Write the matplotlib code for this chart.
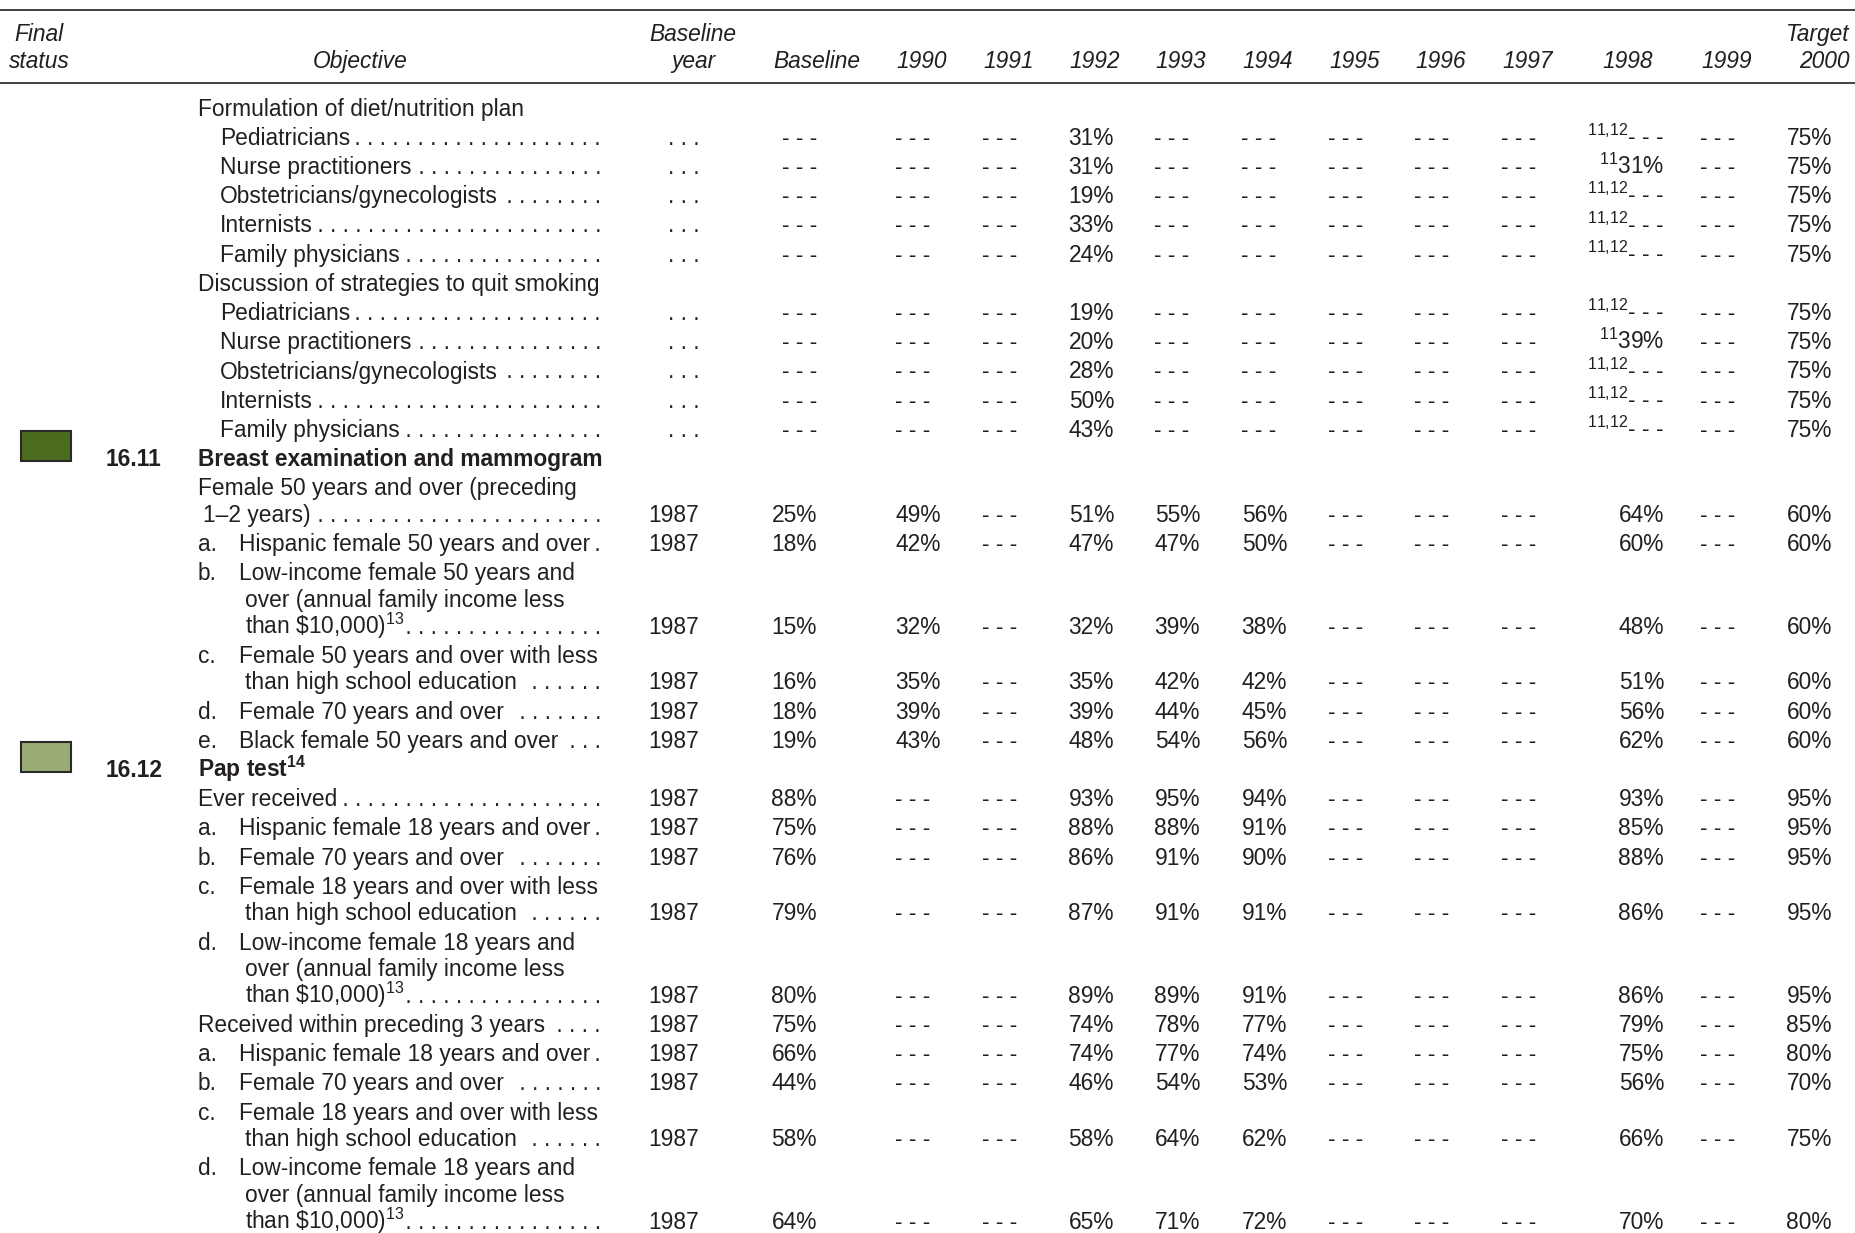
import matplotlib.pyplot as plt
from matplotlib.patches import Rectangle

plt.rcParams['font.family'] = ['Liberation Sans', 'DejaVu Sans']
plt.rcParams['mathtext.fontset'] = 'custom'
plt.rcParams['mathtext.rm'] = 'Liberation Sans'
plt.rcParams['mathtext.it'] = 'Liberation Sans:italic'
plt.rcParams['mathtext.bf'] = 'Liberation Sans:bold'
plt.rcParams['mathtext.default'] = 'regular'

D = "---"
N = None

# table rows: kind, number/letter, label (lines split by \n)
row_kind = ["head", "sub", "sub", "sub", "sub", "sub",
            "head", "sub", "sub", "sub", "sub", "sub",
            "obj", "item", "item", "item", "item", "item", "item",
            "obj", "item", "item", "item", "item", "item",
            "item", "item", "item", "item", "item"]
row_tag = ["", "", "", "", "", "",
           "", "", "", "", "", "",
           "16.11", "", "a.", "b.", "c.", "d.", "e.",
           "16.12", "", "a.", "b.", "c.", "d.",
           "", "a.", "b.", "c.", "d."]
INC = "Low-income female {} years and\nover (annual family income less\nthan \\$10,000)${{}}^{{13}}$"
row_label = [
    "Formulation of diet/nutrition plan",
    "Pediatricians", "Nurse practitioners", "Obstetricians/gynecologists",
    "Internists", "Family physicians",
    "Discussion of strategies to quit smoking",
    "Pediatricians", "Nurse practitioners", "Obstetricians/gynecologists",
    "Internists", "Family physicians",
    "Breast examination and mammogram",
    "Female 50 years and over (preceding\n1\u20132 years)",
    "Hispanic female 50 years and over",
    INC.format(50),
    "Female 50 years and over with less\nthan high school education",
    "Female 70 years and over",
    "Black female 50 years and over",
    "Pap test${}^{\\mathbf{14}}$",
    "Ever received",
    "Hispanic female 18 years and over",
    "Female 70 years and over",
    "Female 18 years and over with less\nthan high school education",
    INC.format(18),
    "Received within preceding 3 years",
    "Hispanic female 18 years and over",
    "Female 70 years and over",
    "Female 18 years and over with less\nthan high school education",
    INC.format(18),
]

base_year = [N] + ["..."] * 5 + [N] + ["..."] * 5 + [N] + ["1987"] * 6 + [N] + ["1987"] * 10
baseline = [N, D, D, D, D, D, N, D, D, D, D, D,
            N, "25%", "18%", "15%", "16%", "18%", "19%",
            N, "88%", "75%", "76%", "79%", "80%", "75%", "66%", "44%", "58%", "64%"]
y1990 = [N, D, D, D, D, D, N, D, D, D, D, D,
         N, "49%", "42%", "32%", "35%", "39%", "43%",
         N] + [D] * 10
y1991 = [N] + [D] * 5 + [N] + [D] * 5 + [N] + [D] * 6 + [N] + [D] * 10
y1992 = [N, "31%", "31%", "19%", "33%", "24%", N, "19%", "20%", "28%", "50%", "43%",
         N, "51%", "47%", "32%", "35%", "39%", "48%",
         N, "93%", "88%", "86%", "87%", "89%", "74%", "74%", "46%", "58%", "65%"]
y1993 = [N, D, D, D, D, D, N, D, D, D, D, D,
         N, "55%", "47%", "39%", "42%", "44%", "54%",
         N, "95%", "88%", "91%", "91%", "89%", "78%", "77%", "54%", "64%", "71%"]
y1994 = [N, D, D, D, D, D, N, D, D, D, D, D,
         N, "56%", "50%", "38%", "42%", "45%", "56%",
         N, "94%", "91%", "90%", "91%", "91%", "77%", "74%", "53%", "62%", "72%"]
y1995 = list(y1991)
y1996 = list(y1991)
y1997 = list(y1991)
y1998 = [N, D, "31%", D, D, D, N, D, "39%", D, D, D,
         N, "64%", "60%", "48%", "51%", "56%", "62%",
         N, "93%", "85%", "88%", "86%", "86%", "79%", "75%", "56%", "66%", "70%"]
y1998_note = [N, "11,12", "11", "11,12", "11,12", "11,12",
              N, "11,12", "11", "11,12", "11,12", "11,12"] + [N] * 18
y1999 = list(y1991)
target = [N] + ["75%"] * 5 + [N] + ["75%"] * 5 + [N] + ["60%"] * 6 + [N] + ["95%"] * 5 + ["85%", "80%", "70%", "75%", "80%"]

years = ["1990", "1991", "1992", "1993", "1994", "1995", "1996", "1997", "1998", "1999"]
year_cols = [y1990, y1991, y1992, y1993, y1994, y1995, y1996, y1997, y1998, y1999]

# status boxes: (row index, colour)
status = [(12, "#4b6b1e"), (19, "#98ab74")]

# ---- layout (pixel units) ----
W, H = 1856, 1233
FS = 16.4
TXT = "#231f20"
year_center = [922, 1008.5, 1095, 1181, 1268, 1355, 1441, 1528, 1628, 1727]
year_right = [c + 19 for c in year_center]
year_right[8] = 1664
dash_dx = -9

fig = plt.figure(figsize=(W / 100, H / 100), dpi=100)
ax = fig.add_axes([0, 0, 1, 1])
ax.set_xlim(0, W)
ax.set_ylim(H, 0)
ax.axis("off")
r = fig.canvas.get_renderer()

# header
ax.plot([0, W], [9.5, 9.5], color="#333333", lw=1.3)
ax.plot([0, W], [83, 83], color="#333333", lw=1.3)
hk = dict(fontsize=FS, style="italic", color=TXT, va="baseline")
y1h, y2h = 41, 68
ax.text(39, y1h, "Final", ha="center", **hk)
ax.text(39, y2h, "status", ha="center", **hk)
ax.text(360, y2h, "Objective", ha="center", **hk)
ax.text(693, y1h, "Baseline", ha="center", **hk)
ax.text(693, y2h, "year", ha="center", **hk)
ax.text(817, y2h, "Baseline", ha="center", **hk)
for yr, xc in zip(years, year_center):
    ax.text(xc, y2h, yr, ha="center", **hk)
ax.text(1850, y1h, "Target", ha="right", **hk)
ax.text(1850, y2h, "2000", ha="right", **hk)

tk = dict(fontsize=FS, color=TXT, va="baseline")
LEAD_END = 601
STEP_NEW, STEP_CONT = 29.2, 26.6
BASE_OFF = 8


def text_right(t):
    bb = t.get_window_extent(renderer=r)
    return ax.transData.inverted().transform((bb.x1, bb.y0))[0]


def text_width(t):
    bb = t.get_window_extent(renderer=r)
    inv = ax.transData.inverted()
    return inv.transform((bb.x1, 0))[0] - inv.transform((bb.x0, 0))[0]


# pitch of the leader dots
probe = ax.text(0, -100, " ." * 20, **tk)
PITCH = text_width(probe) / 20
probe.remove()


def cell(x, y, val, dash_x, note=None):
    if val is None:
        return
    pre = "${}^{%s}$" % note.replace(",", "{,}") if note else ""
    if val == D:
        if note:
            ax.text(x, y, pre + "- - -", ha="right", **tk)
        else:
            ax.text(dash_x, y, "- - -", ha="center", **tk)
    else:
        ax.text(x, y, pre + val, ha="right", **tk)


y = 107.7 - STEP_NEW
for i, kind in enumerate(row_kind):
    lines = row_label[i].split("\n")
    tag = row_tag[i]
    for j, line in enumerate(lines):
        y += STEP_NEW if j == 0 else STEP_CONT
        yb = y + BASE_OFF
        if kind in ("head", "obj"):
            x = 197.7
        elif kind == "sub":
            x = 220
        elif tag:
            x = 239 if j == 0 else 245
        else:
            x = 197.7 if j == 0 else 203.5
        if j == 0 and tag:
            if kind == "obj":
                ax.text(106, yb, tag, fontweight="bold", ha="left", **tk)
            else:
                ax.text(197.7, yb, tag, ha="left", **tk)
        t = ax.text(x, yb, line, ha="left",
                    fontweight="bold" if kind == "obj" else "normal", **tk)
        if j == len(lines) - 1 and kind in ("sub", "item"):
            xe = text_right(t)
            if "$" in line:
                xe -= 6
            n = int((LEAD_END - xe + 3) / PITCH)
            if n > 0:
                ax.text(LEAD_END, yb, " ." * n, ha="right", **tk)
    yb = y + BASE_OFF
    for ri, col in status:
        if ri == i:
            ax.add_patch(Rectangle((21, y - 27), 50, 30, facecolor=col,
                                   edgecolor="#2a2a2a", lw=1.5))
    # values on the last line of the row
    by = base_year[i]
    if by == "...":
        ax.text(684, yb, ". . .", ha="center", **tk)
    elif by is not None:
        ax.text(699.5, yb, by, ha="right", **tk)
    cell(817, yb, baseline[i], 800)
    for k, col in enumerate(year_cols):
        note = y1998_note[i] if years[k] == "1998" else None
        cell(year_right[k], yb, col[i], year_center[k] + dash_dx, note)
    cell(1832, yb, target[i], 1820)

fig.savefig("out.png", dpi=100)
